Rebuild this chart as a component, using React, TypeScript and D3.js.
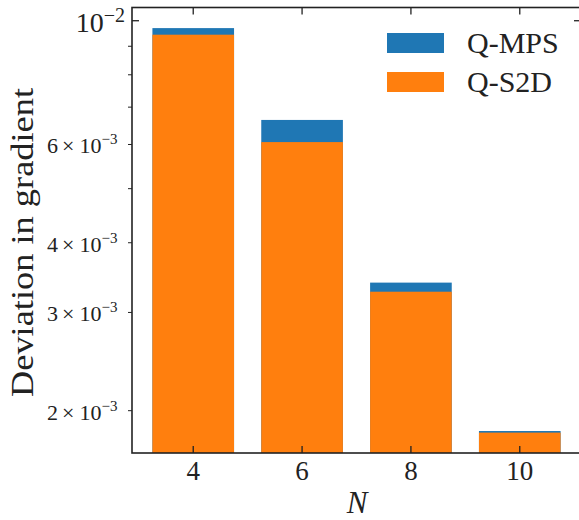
import React from "react";
import * as d3 from "d3";

const categories = [4, 6, 8, 10];
const qMps = [9.70e-3, 6.64e-3, 3.393e-3, 1.839e-3];
const qS2d = [9.44e-3, 6.06e-3, 3.268e-3, 1.827e-3];
const seriesNames = ["Q-MPS", "Q-S2D"];
const colors = ["#1f77b4", "#ff7f0e"];
const majorY = [1e-2];
const minorY = [2e-3, 3e-3, 4e-3, 5e-3, 6e-3, 7e-3, 8e-3, 9e-3];
const minorLabeled = [2, 3, 4, 6];

const W = 579, H = 520;
const L = 132, R = 581, T = 7.5, B = 453;
const FONT = "'Liberation Serif', 'DejaVu Serif', serif";

export default function App() {
  const x = d3.scaleLinear().domain([2.875, 11.125]).range([L, R]);
  const y = d3.scaleLog().domain([1.6795e-3, 1.0561e-2]).range([B, T]);
  const bw = x(1.5) - x(0);
  const spine = "#222";
  return (
    <svg width={W} height={H} style={{ position: "absolute", left: 0, top: 0 }} fontFamily={FONT}>
      <rect width={W} height={H} fill="#fff" />
      {categories.map((c, i) => (
        <rect key={"b" + c} x={x(c) - bw / 2} y={y(qMps[i])} width={bw} height={B - y(qMps[i])} fill={colors[0]} />
      ))}
      {categories.map((c, i) => (
        <rect key={"o" + c} x={x(c) - bw / 2} y={y(qS2d[i])} width={bw} height={B - y(qS2d[i])} fill={colors[1]} />
      ))}
      {categories.map((c) => (
        <g key={"xt" + c}>
          <line x1={x(c)} x2={x(c)} y1={B} y2={B - 7} stroke={spine} strokeWidth={1.3} />
          <line x1={x(c)} x2={x(c)} y1={T} y2={T + 7} stroke={spine} strokeWidth={1.3} />
          <text x={x(c)} y={480} textAnchor="middle" fontSize={27} fill="#222">{c}</text>
        </g>
      ))}
      {majorY.map((v) => (
        <g key={"ym" + v}>
          <line x1={L} x2={L + 7} y1={y(v)} y2={y(v)} stroke={spine} strokeWidth={1.3} />
          <line x1={R} x2={R - 7} y1={y(v)} y2={y(v)} stroke={spine} strokeWidth={1.3} />
          <text x={125} y={y(v) + 11} textAnchor="end" fontSize={28} fill="#222">
            10<tspan fontSize={20} dy={-10}>−2</tspan>
          </text>
        </g>
      ))}
      {minorY.map((v) => {
        const m = Math.round(v * 1000);
        return (
          <g key={"yn" + v}>
            <line x1={L} x2={L - 4} y1={y(v)} y2={y(v)} stroke={spine} strokeWidth={1} />
            {minorLabeled.includes(m) && (
              <text x={47} y={y(v) + 9} fontSize={22} fill="#222">
                <tspan>{m}</tspan>
                <tspan dx={4}>×</tspan>
                <tspan dx={5}>10</tspan>
                <tspan fontSize={15} dy={-9}>−3</tspan>
              </text>
            )}
          </g>
        );
      })}
      <rect x={L} y={T} width={R - L} height={B - T} fill="none" stroke={spine} strokeWidth={1.6} />
      <text transform={`translate(33,242.5) rotate(-90)`} textAnchor="middle" fontSize={31} textLength={309} lengthAdjust="spacingAndGlyphs" fill="#222">Deviation in gradient</text>
      <text x={357} y={513} textAnchor="middle" fontSize={31} fontStyle="italic" fill="#222">N</text>
      {seriesNames.map((s, i) => (
        <g key={"lg" + s}>
          <rect x={387} y={33 + i * 39} width={57} height={20} fill={colors[i]} />
          <text x={467} y={53 + i * 39} fontSize={30} fill="#222">{s}</text>
        </g>
      ))}
    </svg>
  );
}
